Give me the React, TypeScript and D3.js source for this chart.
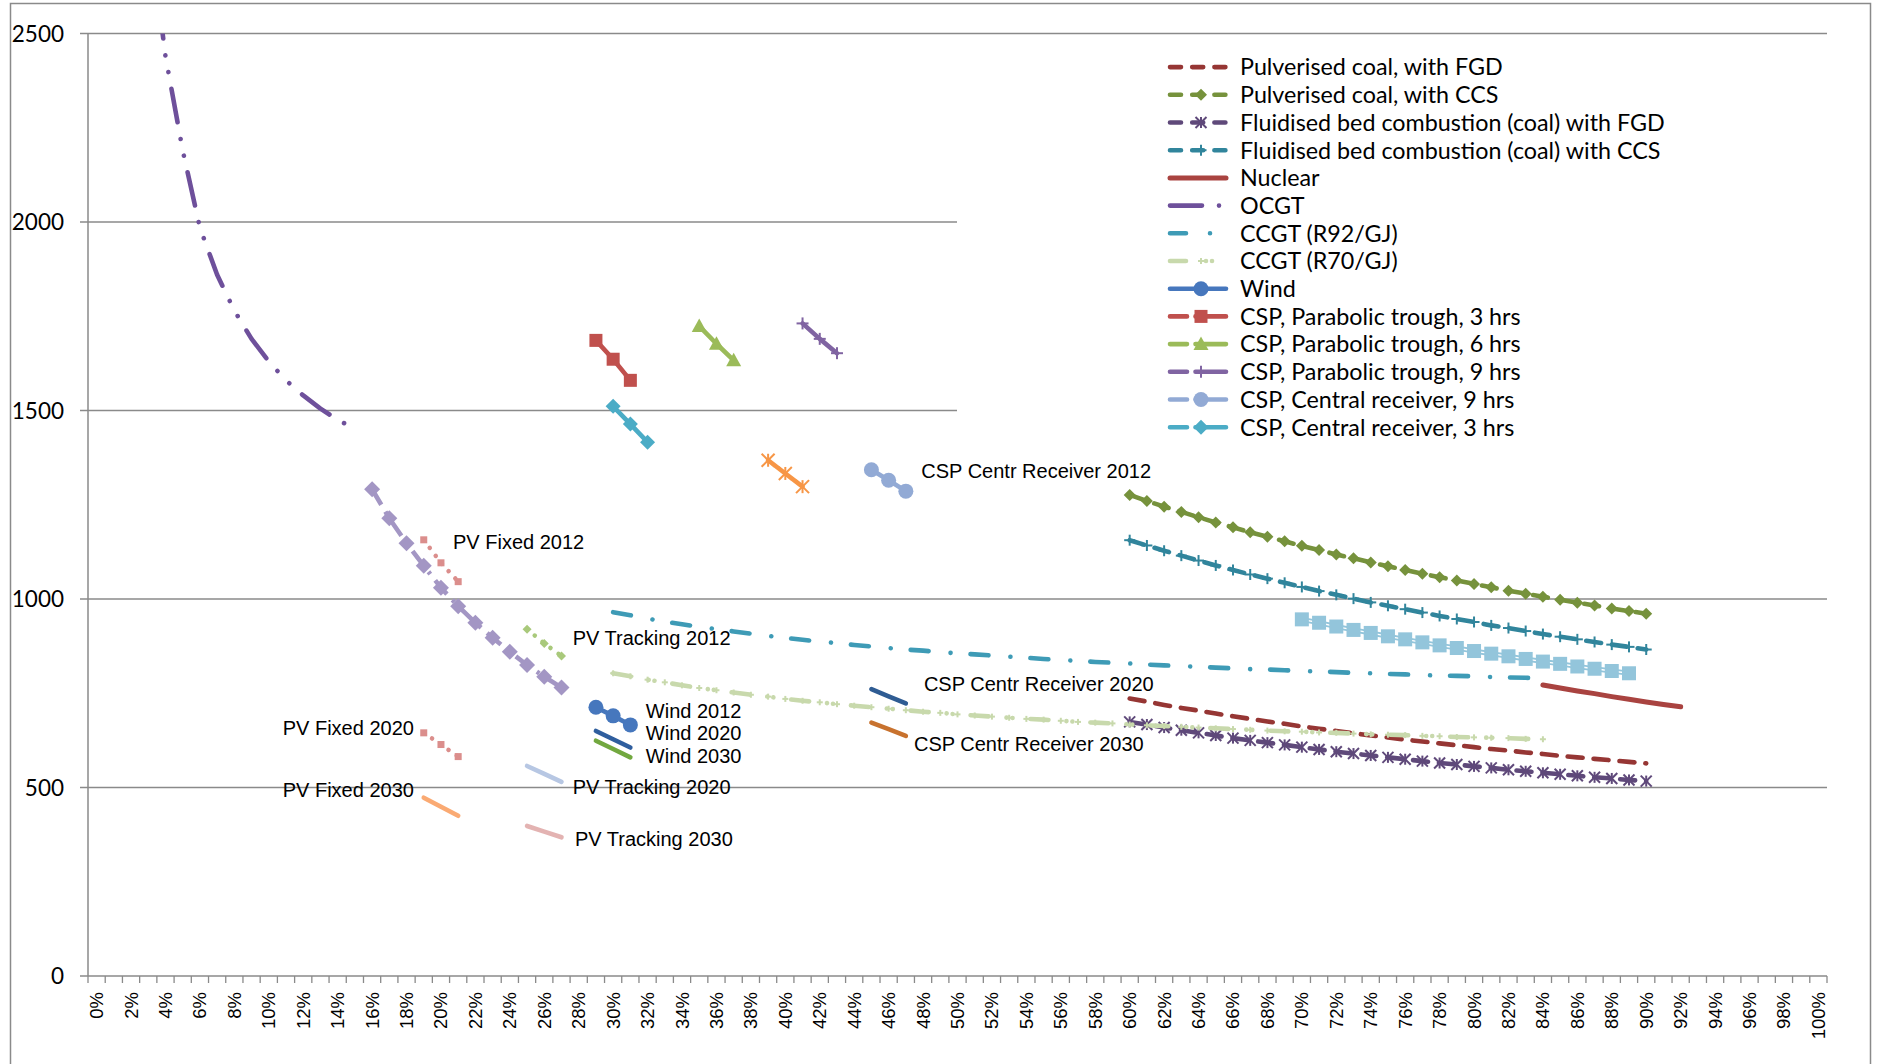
import React from 'react';
import * as d3 from 'd3';

const W = 1879;
const H = 1064;

// Categories: capacity factor 0%..100%
const xCategories: number[] = d3.range(0, 101);
const yTicks = [0, 500, 1000, 1500, 2000, 2500];

// ---- series values (R/MWh), each with its first category ----
const pcFgdStart = 60;
const pcFgd = [736, 728, 719, 711, 704, 696, 689, 682, 675, 669, 662, 656, 650, 644, 638, 633, 627, 622, 617, 612, 607, 602, 598, 593, 589, 584, 580, 576, 572, 568, 564];

const pcCcsStart = 60;
const pcCcs = [1276, 1260, 1245, 1231, 1217, 1203, 1190, 1177, 1165, 1153, 1141, 1130, 1118, 1108, 1097, 1087, 1077, 1067, 1058, 1049, 1040, 1031, 1022, 1014, 1006, 998, 990, 983, 975, 968, 961];

const fbcFgdStart = 60;
const fbcFgd = [674, 667, 659, 652, 645, 638, 631, 625, 619, 613, 607, 601, 595, 590, 585, 580, 575, 570, 565, 561, 556, 552, 547, 543, 539, 535, 531, 527, 524, 520, 517];

const fbcCcsStart = 60;
const fbcCcs = [1156, 1142, 1128, 1115, 1102, 1089, 1077, 1065, 1054, 1043, 1032, 1021, 1011, 1001, 991, 982, 973, 964, 955, 947, 939, 930, 923, 915, 907, 900, 893, 886, 879, 873, 866];

const nuclearStart = 84;
const nuclear = [772, 764, 756, 749, 741, 734, 727, 720, 714];

const ocgtStart = 3;
const ocgt = [2800, 2440, 2190, 1985, 1860, 1765, 1690, 1630, 1580, 1540, 1505, 1475, 1452];

const ccgt92Start = 30;
const ccgt92 = [965, 957, 948, 940, 933, 926, 920, 914, 908, 902, 897, 892, 887, 883, 878, 874, 870, 866, 863, 859, 856, 853, 850, 847, 844, 841, 838, 836, 833, 831, 829, 826, 824, 822, 820, 818, 816, 814, 813, 811, 809, 808, 806, 804, 803, 801, 800, 798, 797, 796, 795, 793, 792, 791, 790];

const ccgt70Start = 30;
const ccgt70 = [803, 795, 786, 779, 771, 764, 758, 752, 746, 741, 735, 730, 726, 721, 717, 713, 709, 705, 701, 698, 694, 691, 688, 685, 682, 680, 677, 674, 672, 670, 667, 665, 663, 661, 659, 657, 655, 653, 651, 649, 648, 646, 645, 643, 641, 640, 639, 637, 636, 634, 633, 632, 631, 629, 628];

const wind2012Start = 29;
const wind2012 = [713, 690, 666];
const wind2020Start = 29;
const wind2020 = [650, 628, 606];
const wind2030Start = 29;
const wind2030 = [624, 602, 580];

const cspPt3Start = 29;
const cspPt3 = [1686, 1636, 1580];
const cspPt6Start = 35;
const cspPt6 = [1724, 1677, 1633];
const cspPt9Start = 41;
const cspPt9 = [1731, 1690, 1652];
const cspCr9Start = 45;
const cspCr9 = [1343, 1315, 1286];
const cspCr3Start = 30;
const cspCr3 = [1511, 1464, 1416];
const cspCr2020Start = 45;
const cspCr2020 = [761, 742, 723];
const cspCr2030Start = 45;
const cspCr2030 = [672, 655, 637];

const orangeStart = 39;
const orangeSeries = [1368, 1333, 1298];

const lightBlueStart = 70;
const lightBlue = [946, 937, 927, 918, 910, 901, 893, 885, 877, 870, 862, 855, 848, 841, 834, 828, 821, 815, 809, 803];

const lavenderStart = 16;
const lavender = [1291, 1214, 1148, 1088, 1030, 981, 937, 897, 860, 825, 794, 765];

const pvFixed2012Start = 19;
const pvFixed2012 = [1157, 1096, 1046];
const pvFixed2020Start = 19;
const pvFixed2020 = [645, 614, 582];
const pvFixed2030Start = 19;
const pvFixed2030 = [473, 449, 425];
const pvTrack2012Start = 25;
const pvTrack2012 = [920, 882, 849];
const pvTrack2020Start = 25;
const pvTrack2020 = [557, 536, 515];
const pvTrack2030Start = 25;
const pvTrack2030 = [398, 383, 368];

// Text annotations: [label, capacity factor (left edge), value at baseline]
const annotations: [string, number, number][] = [
  ['CSP Centr Receiver 2012', 47.9, 1321],
  ['PV Fixed 2012', 20.7, 1133],
  ['PV Tracking 2012', 27.65, 879],
  ['CSP Centr Receiver 2020', 48.05, 756],
  ['Wind 2012', 31.9, 685],
  ['Wind 2020', 31.9, 626],
  ['Wind 2030', 31.9, 565],
  ['CSP Centr Receiver 2030', 47.47, 597],
  ['PV Fixed 2020', 10.81, 638],
  ['PV Tracking 2020', 27.65, 483],
  ['PV Fixed 2030', 10.81, 475],
  ['PV Tracking 2030', 27.78, 345],
];

type MarkerType = 'none' | 'diamond' | 'square' | 'circle' | 'triangle' | 'plus' | 'star';

interface Series {
  name: string;
  start: number;
  values: number[];
  color: string;
  width: number;
  dash?: string;
  cap?: 'round' | 'butt';
  marker: MarkerType;
  markerSize?: number;
  legend: boolean;
  legendDash?: string;
  doubleLine?: boolean;
}

const coalDash = '15 11';
const coalLegendDash = '11 11.2';

const series: Series[] = [
  { name: 'Pulverised coal, with FGD', start: pcFgdStart, values: pcFgd, color: '#963634', width: 4.6, dash: coalDash, cap: 'round', marker: 'none', legend: true, legendDash: coalLegendDash },
  { name: 'Pulverised coal, with CCS', start: pcCcsStart, values: pcCcs, color: '#76923C', width: 4.6, dash: coalDash, cap: 'round', marker: 'diamond', markerSize: 12, legend: true, legendDash: coalLegendDash },
  { name: 'Fluidised bed combustion (coal) with FGD', start: fbcFgdStart, values: fbcFgd, color: '#5F497A', width: 4.6, dash: coalDash, cap: 'round', marker: 'star', markerSize: 11, legend: true, legendDash: coalLegendDash },
  { name: 'Fluidised bed combustion (coal) with CCS', start: fbcCcsStart, values: fbcCcs, color: '#31859C', width: 4.6, dash: coalDash, cap: 'round', marker: 'plus', markerSize: 11, legend: true, legendDash: coalLegendDash },
  { name: 'Nuclear', start: nuclearStart, values: nuclear, color: '#A94340', width: 5, cap: 'round', marker: 'none', legend: true },
  { name: 'OCGT', start: ocgtStart, values: ocgt, color: '#6E509B', width: 4.6, dash: '34 17 0.01 17 0.01 17', cap: 'round', marker: 'none', legend: true, legendDash: '32 17 0.01 17 0.01 17' },
  { name: 'CCGT (R92/GJ)', start: ccgt92Start, values: ccgt92, color: '#3E9BB6', width: 4.6, dash: '18 22 0.01 20', cap: 'round', marker: 'none', legend: true, legendDash: '16 24 0.01 20' },
  { name: 'CCGT (R70/GJ)', start: ccgt70Start, values: ccgt70, color: '#C8D9AC', width: 4.6, dash: '18 18 0.01 6 0.01 18', cap: 'round', marker: 'plus', markerSize: 6, legend: true, legendDash: '16 20 0.01 6 0.01 18' },
  { name: 'Wind', start: wind2012Start, values: wind2012, color: '#4677BD', width: 4.6, cap: 'round', marker: 'circle', markerSize: 15, legend: true },
  { name: 'CSP, Parabolic trough, 3 hrs', start: cspPt3Start, values: cspPt3, color: '#C0504D', width: 4.6, cap: 'round', marker: 'square', markerSize: 13, legend: true, legendDash: '17 8.5 100' },
  { name: 'CSP, Parabolic trough, 6 hrs', start: cspPt6Start, values: cspPt6, color: '#9BBB59', width: 4.6, cap: 'round', marker: 'triangle', markerSize: 15, legend: true, legendDash: '17 8.5 100' },
  { name: 'CSP, Parabolic trough, 9 hrs', start: cspPt9Start, values: cspPt9, color: '#8064A2', width: 4.6, cap: 'round', marker: 'plus', markerSize: 12, legend: true, legendDash: '17 8.5 100' },
  { name: 'CSP, Central receiver, 9 hrs', start: cspCr9Start, values: cspCr9, color: '#92AAD5', width: 4.6, cap: 'round', marker: 'circle', markerSize: 15, legend: true, legendDash: '17 8.5 100' },
  { name: 'CSP, Central receiver, 3 hrs', start: cspCr3Start, values: cspCr3, color: '#4BACC6', width: 4.6, cap: 'round', marker: 'diamond', markerSize: 15, legend: true, legendDash: '17 8.5 100' },
  { name: 'Wind 2020', start: wind2020Start, values: wind2020, color: '#2F5E9E', width: 4.6, cap: 'round', marker: 'none', legend: false },
  { name: 'Wind 2030', start: wind2030Start, values: wind2030, color: '#72A83F', width: 4.6, cap: 'round', marker: 'none', legend: false },
  { name: 'CSP Centr Receiver 2020', start: cspCr2020Start, values: cspCr2020, color: '#2F5C93', width: 4.6, cap: 'round', marker: 'none', legend: false },
  { name: 'CSP Centr Receiver 2030', start: cspCr2030Start, values: cspCr2030, color: '#C8722E', width: 4.6, cap: 'round', marker: 'none', legend: false },
  { name: 'CSP (orange)', start: orangeStart, values: orangeSeries, color: '#F79646', width: 4.6, cap: 'round', marker: 'star', markerSize: 13, legend: false },
  { name: 'Light blue squares', start: lightBlueStart, values: lightBlue, color: '#93C5DB', width: 5, cap: 'butt', marker: 'square', markerSize: 14, legend: false, doubleLine: true },
  { name: 'Lavender', start: lavenderStart, values: lavender, color: '#A396C4', width: 4.6, dash: '18 8 3 8', cap: 'butt', marker: 'diamond', markerSize: 16, legend: false },
  { name: 'PV Fixed 2012', start: pvFixed2012Start, values: pvFixed2012, color: '#DB8E8C', width: 4.6, dash: '0.01 10', cap: 'round', marker: 'square', markerSize: 7, legend: false },
  { name: 'PV Fixed 2020', start: pvFixed2020Start, values: pvFixed2020, color: '#DB8E8C', width: 4.6, dash: '0.01 10', cap: 'round', marker: 'square', markerSize: 7, legend: false },
  { name: 'PV Fixed 2030', start: pvFixed2030Start, values: pvFixed2030, color: '#FAAA73', width: 4.6, cap: 'round', marker: 'none', legend: false },
  { name: 'PV Tracking 2012', start: pvTrack2012Start, values: pvTrack2012, color: '#A9C97B', width: 4.6, dash: '0.01 10', cap: 'round', marker: 'diamond', markerSize: 9, legend: false },
  { name: 'PV Tracking 2020', start: pvTrack2020Start, values: pvTrack2020, color: '#B7C7E3', width: 4.6, cap: 'round', marker: 'none', legend: false },
  { name: 'PV Tracking 2030', start: pvTrack2030Start, values: pvTrack2030, color: '#E3B3B2', width: 4.6, cap: 'round', marker: 'none', legend: false },
];

// ---- layout ----
const plotLeft = 88;
const plotRight = 1827;
const plotTop = 33.5;
const plotBottom = 976;

const x = d3.scalePoint<number>().domain(xCategories).range([plotLeft, plotRight]).padding(0.5);
const step = x.step();
const xLin = d3.scaleLinear().domain([0, 100]).range([x(0) as number, x(100) as number]);
const y = d3.scaleLinear().domain([0, 2500]).range([plotBottom, plotTop]);

const AXIS = '#8a8a8a';

function Marker({ type, cx, cy, size, color }: { type: MarkerType; cx: number; cy: number; size: number; color: string }) {
  const s = size / 2;
  switch (type) {
    case 'diamond':
      return <path d={`M${cx},${cy - s}L${cx + s},${cy}L${cx},${cy + s}L${cx - s},${cy}Z`} fill={color} />;
    case 'square':
      return <rect x={cx - s} y={cy - s} width={size} height={size} fill={color} />;
    case 'circle':
      return <circle cx={cx} cy={cy} r={s} fill={color} />;
    case 'triangle':
      return <path d={`M${cx},${cy - s}L${cx + s},${cy + s * 0.8}L${cx - s},${cy + s * 0.8}Z`} fill={color} />;
    case 'plus':
      return (
        <g stroke={color} strokeWidth={2}>
          <line x1={cx - s} y1={cy} x2={cx + s} y2={cy} />
          <line x1={cx} y1={cy - s} x2={cx} y2={cy + s} />
        </g>
      );
    case 'star':
      return (
        <g stroke={color} strokeWidth={2}>
          <line x1={cx - s} y1={cy - s} x2={cx + s} y2={cy + s} />
          <line x1={cx - s} y1={cy + s} x2={cx + s} y2={cy - s} />
          <line x1={cx} y1={cy - s} x2={cx} y2={cy + s} />
        </g>
      );
    default:
      return null;
  }
}

export default function App() {
  const lineGen = (s: Series) =>
    d3
      .line<number>()
      .x((_, i) => x(s.start + i) as number)
      .y((d) => y(d))(s.values) as string;

  const legendItems = series.filter((s) => s.legend);
  const legendY0 = 67.1;
  const legendDy = 27.7;
  const lx1 = 1170;
  const lx2 = 1226;
  const lmx = 1201;

  return (
    <svg
      width={W}
      height={H}
      viewBox={`0 0 ${W} ${H}`}
      style={{ position: 'absolute', left: 0, top: 0, background: '#fff' }}
    >
      <defs>
        <clipPath id="plotClip">
          <rect x={plotLeft} y={plotTop} width={plotRight - plotLeft} height={plotBottom - plotTop} />
        </clipPath>
      </defs>
      <rect x={0} y={0} width={W} height={H} fill="#fff" />
      {/* chart border */}
      <rect x={10.5} y={3.5} width={1860} height={1080} fill="none" stroke={AXIS} strokeWidth={1.5} />

      {/* gridlines */}
      {yTicks.filter((t) => t > 0).map((t) => (
        <line key={t} x1={plotLeft} x2={plotRight} y1={y(t)} y2={y(t)} stroke={AXIS} strokeWidth={1.5} />
      ))}

      {/* y axis */}
      <line x1={plotLeft} x2={plotLeft} y1={plotTop} y2={plotBottom} stroke={AXIS} strokeWidth={1.5} />
      {yTicks.map((t) => (
        <g key={t}>
          <line x1={plotLeft - 8} x2={plotLeft} y1={y(t)} y2={y(t)} stroke={AXIS} strokeWidth={1.5} />
          <text x={64} y={y(t)} dy="0.36em" textAnchor="end" fontFamily="Lato, 'Open Sans', sans-serif" fontSize={22.5} fill="#000">
            {t}
          </text>
        </g>
      ))}

      {/* x axis */}
      <line x1={plotLeft} x2={plotRight} y1={plotBottom} y2={plotBottom} stroke={AXIS} strokeWidth={1.5} />
      {d3.range(0, xCategories.length + 1).map((k) => {
        const tx = plotLeft + k * step;
        return <line key={k} x1={tx} x2={tx} y1={plotBottom} y2={plotBottom + 7} stroke={AXIS} strokeWidth={1.3} />;
      })}
      {xCategories.filter((c) => c % 2 === 0).map((c) => (
        <text
          key={c}
          transform={`translate(${(x(c) as number) + 6.5},${992}) rotate(-90)`}
          textAnchor="end"
          fontFamily="'Liberation Sans', Arial, sans-serif"
          fontSize={18.5}
          fill="#000"
        >
          {`${c}%`}
        </text>
      ))}

      {/* series */}
      <g clipPath="url(#plotClip)">
        {series.map((s) => (
          <g key={s.name}>
            <path
              d={lineGen(s)}
              fill="none"
              stroke={s.color}
              strokeWidth={s.width}
              strokeDasharray={s.dash}
              strokeLinecap={s.cap || 'round'}
              strokeLinejoin="round"
            />
            {s.doubleLine && (
              <path d={lineGen(s)} fill="none" stroke="#fff" strokeWidth={1.3} />
            )}
            {s.marker !== 'none' &&
              s.values.map((v, i) => (
                <Marker key={i} type={s.marker} cx={x(s.start + i) as number} cy={y(v)} size={s.markerSize || 10} color={s.color} />
              ))}
          </g>
        ))}
      </g>

      {/* annotations */}
      {annotations.map(([label, cf, v]) => (
        <text key={label} x={xLin(cf)} y={y(v)} fontFamily="'Liberation Sans', Arial, sans-serif" fontSize={20} fill="#000">
          {label}
        </text>
      ))}

      {/* legend */}
      <rect x={957} y={40} width={plotRight - 957} height={405} fill="#fff" />
      {legendItems.map((s, i) => {
        const ly = legendY0 + i * legendDy;
        return (
          <g key={s.name}>
            <line
              x1={lx1}
              x2={lx2}
              y1={ly}
              y2={ly}
              stroke={s.color}
              strokeWidth={s.width}
              strokeDasharray={s.legendDash || s.dash}
              strokeLinecap={s.cap || 'round'}
            />
            {s.marker !== 'none' && (
              <Marker type={s.marker} cx={lmx} cy={ly} size={s.markerSize || 10} color={s.color} />
            )}
            <text x={1240} y={ly} dy="0.36em" fontFamily="Lato, 'Open Sans', sans-serif" fontSize={23.3} fill="#000">
              {s.name}
            </text>
          </g>
        );
      })}
    </svg>
  );
}
